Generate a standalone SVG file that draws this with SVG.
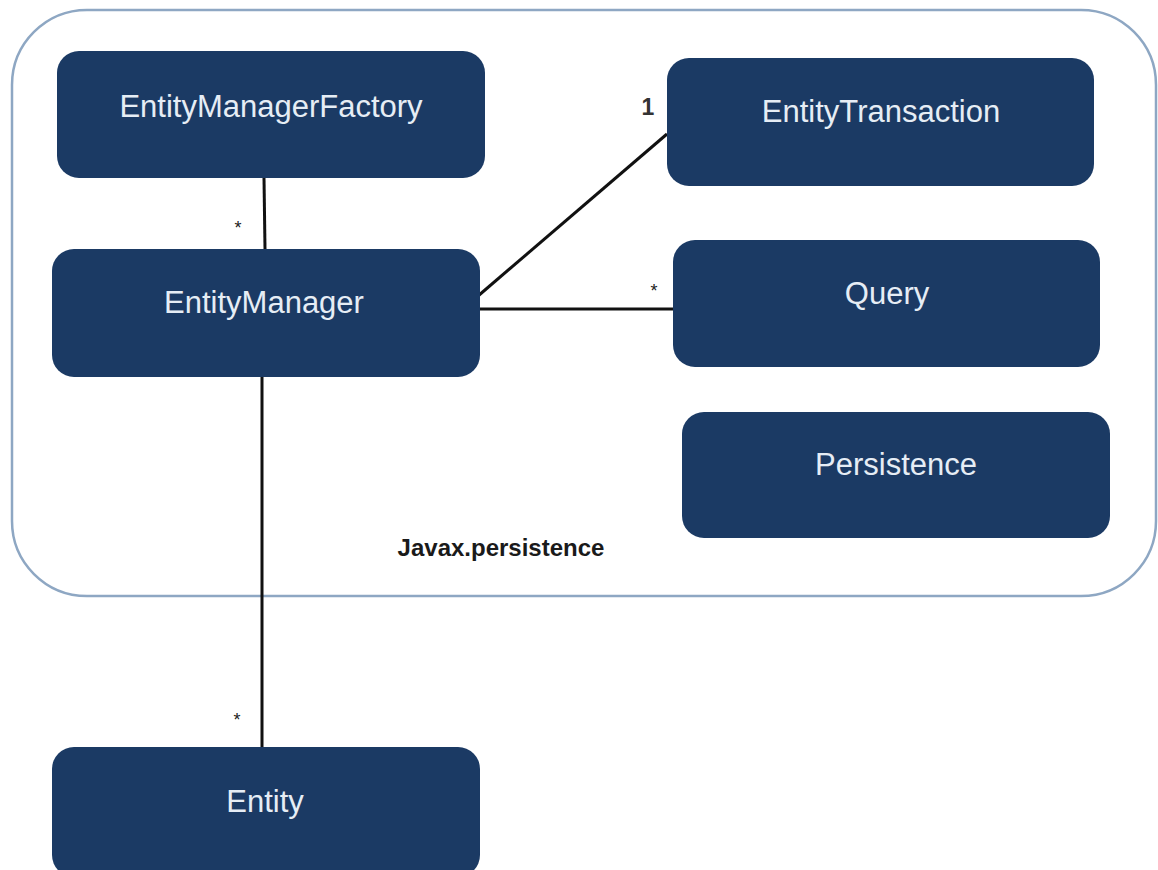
<svg xmlns="http://www.w3.org/2000/svg" width="1158" height="870" viewBox="0 0 1158 870">
<style>
.box{fill:#1b3a64;}
.lbl{fill:#e6edf5;font-family:"Liberation Sans",Arial,sans-serif;font-size:31px;text-anchor:middle;}
.conn{stroke:#111;stroke-width:3;fill:none;}
.mult{fill:#222;font-family:"Liberation Sans",Arial,sans-serif;font-size:18px;text-anchor:middle;}
.one{font-size:23px;font-weight:bold;fill:#333;}
</style>
<rect width="1158" height="870" fill="#ffffff"/>
<g id="package">
<rect x="12" y="10" width="1144" height="586" rx="75" ry="75" fill="none" stroke="#8ea7c3" stroke-width="2.5"/>
<text x="501" y="556" font-family="'Liberation Sans',Arial,sans-serif" font-weight="bold" font-size="24" fill="#1a1a1a" text-anchor="middle">Javax.persistence</text>
</g>
<g id="connectors">
<line class="conn" x1="264" y1="178" x2="265" y2="249"/>
<line class="conn" x1="478" y1="296" x2="667" y2="134"/>
<line class="conn" x1="478" y1="309" x2="674" y2="309"/>
<line class="conn" x1="262" y1="376" x2="262" y2="748"/>
<text class="mult" x="238" y="234">*</text>
<text class="mult one" x="648" y="115">1</text>
<text class="mult" x="654" y="297">*</text>
<text class="mult" x="237" y="726">*</text>
</g>
<g id="EntityManagerFactory">
<rect class="box" x="57" y="51" width="428" height="127" rx="22"/>
<text class="lbl" x="271" y="117">EntityManagerFactory</text>
</g>
<g id="EntityManager">
<rect class="box" x="52" y="249" width="428" height="128" rx="22"/>
<text class="lbl" x="264" y="313">EntityManager</text>
</g>
<g id="EntityTransaction">
<rect class="box" x="667" y="58" width="427" height="128" rx="22"/>
<text class="lbl" x="881" y="122">EntityTransaction</text>
</g>
<g id="Query">
<rect class="box" x="673" y="240" width="427" height="127" rx="22"/>
<text class="lbl" x="887" y="304">Query</text>
</g>
<g id="Persistence">
<rect class="box" x="682" y="412" width="428" height="126" rx="22"/>
<text class="lbl" x="896" y="475">Persistence</text>
</g>
<g id="Entity">
<rect class="box" x="52" y="747" width="428" height="130" rx="22"/>
<text class="lbl" x="265" y="812">Entity</text>
</g>
</svg>
